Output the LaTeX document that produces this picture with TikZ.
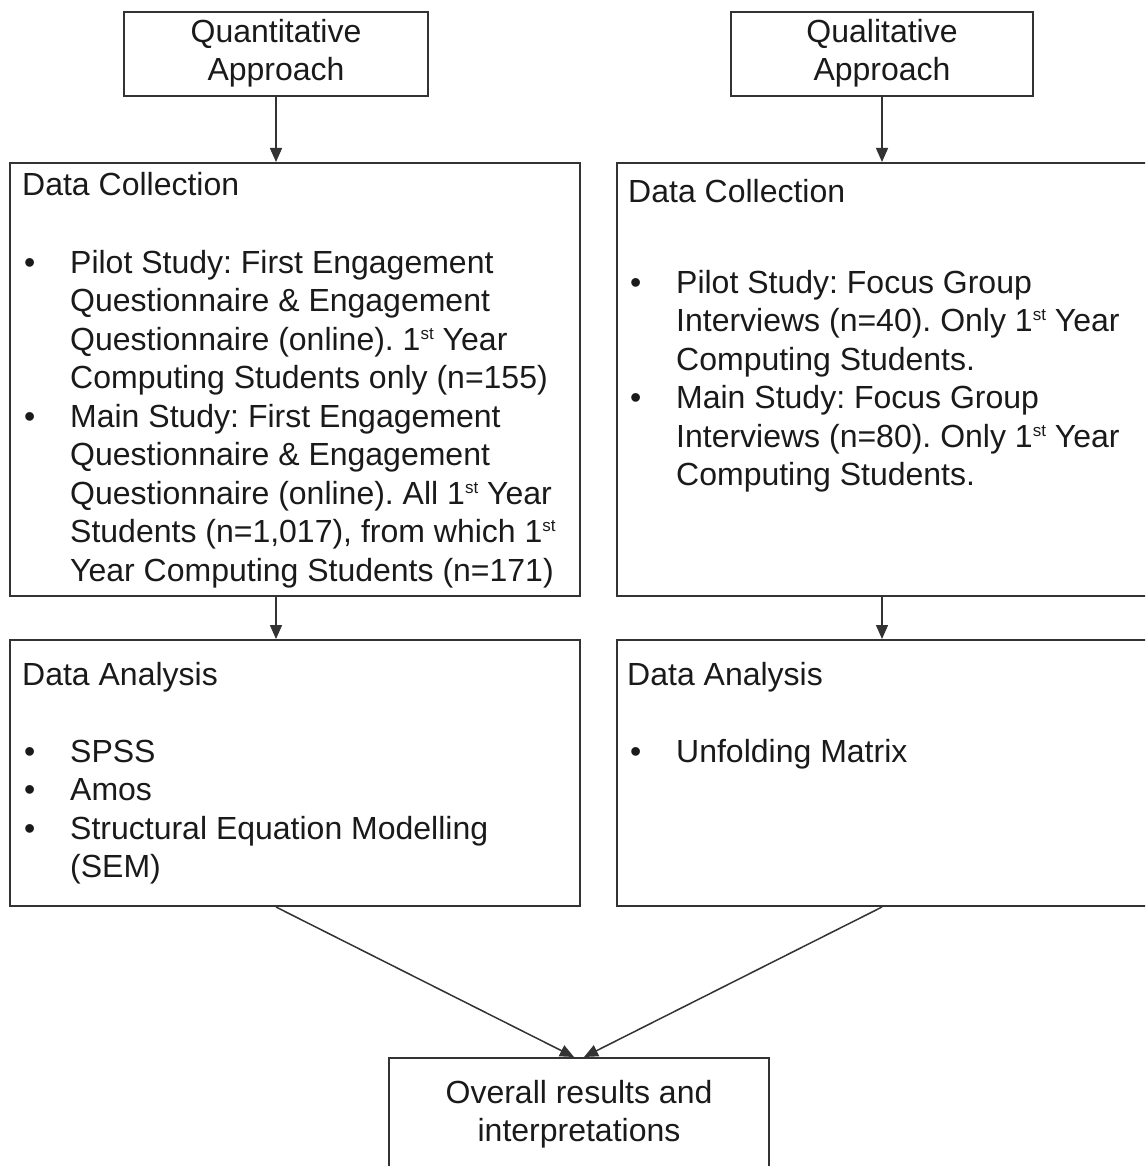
\documentclass[tikz,border=0pt]{standalone}
\usepackage{fontspec}
\setmainfont{Liberation Sans}
\usetikzlibrary{arrows.meta}
\definecolor{linegray}{HTML}{333333}
\definecolor{textgray}{HTML}{1A1A1A}
\frenchspacing
% small raised "st"
\newcommand{\upst}{\smash{\raisebox{11pt}{\fontsize{17}{17}\selectfont st}}}

\begin{document}
\begin{tikzpicture}[x=1pt, y=-1pt,
    every node/.style={text=textgray, font=\fontsize{32}{38.5}\selectfont},
    box/.style 2 args={draw=linegray, line width=2pt, minimum width=#1, minimum height=#2, inner sep=0pt},
    txt/.style={inner sep=0pt, anchor=base west},
    arr/.style={draw=linegray, line width=1.5pt, -{Triangle[length=14pt,width=12pt]}}]
    \useasboundingbox (0,0) rectangle (1145,1166);
    \clip (0,0) rectangle (1145,1166);

    % approaches
    \node[box={304pt}{84pt}] (quanta) at (276,54) {\begin{tabular}[t]{@{}c@{}}Quantitative\\Approach\end{tabular}};
    \node[box={302pt}{84pt}] (quala) at (882,54) {\begin{tabular}[t]{@{}c@{}}Qualitative\\Approach\end{tabular}};

    % data collection
    \node[box={570pt}{433pt}] (quantdc) at (295,379.5) {};
    \node[box={560pt}{433pt}] (qualdc) at (897,379.5) {};
    \node[txt] (quantdch) at (22,196) {Data Collection};
    \node[txt] (qualdch) at (628,203) {Data Collection};
    \node[txt] (quantdcl) at (24,273) {\begin{tabular}[t]{@{}p{46pt}@{}l@{}}
        \textbullet & Pilot Study: First Engagement\\
         & Questionnaire \& Engagement\\
         & Questionnaire (online). 1\upst{} Year\\
         & Computing Students only (n=155)\\
        \textbullet & Main Study: First Engagement\\
         & Questionnaire \& Engagement\\
         & Questionnaire (online). All 1\upst{} Year\\
         & Students (n=1,017), from which 1\upst\\
         & Year Computing Students (n=171)
        \end{tabular}};
    \node[txt] (qualdcl) at (630,293) {\begin{tabular}[t]{@{}p{46pt}@{}l@{}}
        \textbullet & Pilot Study: Focus Group\\
         & Interviews (n=40). Only 1\upst{} Year\\
         & Computing Students.\\
        \textbullet & Main Study: Focus Group\\
         & Interviews (n=80). Only 1\upst{} Year\\
         & Computing Students.
        \end{tabular}};

    % data analysis
    \node[box={570pt}{266pt}] (quantda) at (295,773) {};
    \node[box={560pt}{266pt}] (qualda) at (897,773) {};
    \node[txt] (quantdah) at (22,685) {Data Analysis};
    \node[txt] (qualdah) at (627,685) {Data Analysis};
    \node[txt] (quantdal) at (24,762) {\begin{tabular}[t]{@{}p{46pt}@{}l@{}}
        \textbullet & SPSS\\
        \textbullet & Amos\\
        \textbullet & Structural Equation Modelling\\
         & (SEM)
        \end{tabular}};
    \node[txt] (qualdal) at (630,762) {\begin{tabular}[t]{@{}p{46pt}@{}l@{}}
        \textbullet & Unfolding Matrix
        \end{tabular}};

    % results
    \node[box={380pt}{122pt}] (res) at (579,1119) {};
    \node[inner sep=0pt, anchor=base] (restext) at (579,1103) {\begin{tabular}[t]{@{}c@{}}Overall results and\\interpretations\end{tabular}};

    \draw[arr] (quanta.south) -- (quanta.south |- quantdc.north);
    \draw[arr] (quala.south) -- (quala.south |- qualdc.north);
    \draw[arr] (quanta.south |- quantdc.south) -- (quanta.south |- quantda.north);
    \draw[arr] (quala.south |- qualdc.south) -- (quala.south |- qualda.north);
    \draw[arr] (quanta.south |- quantda.south) -- ([xshift=-5pt]res.north);
    \draw[arr] (quala.south |- qualda.south) -- ([xshift=5pt]res.north);
\end{tikzpicture}
\end{document}
